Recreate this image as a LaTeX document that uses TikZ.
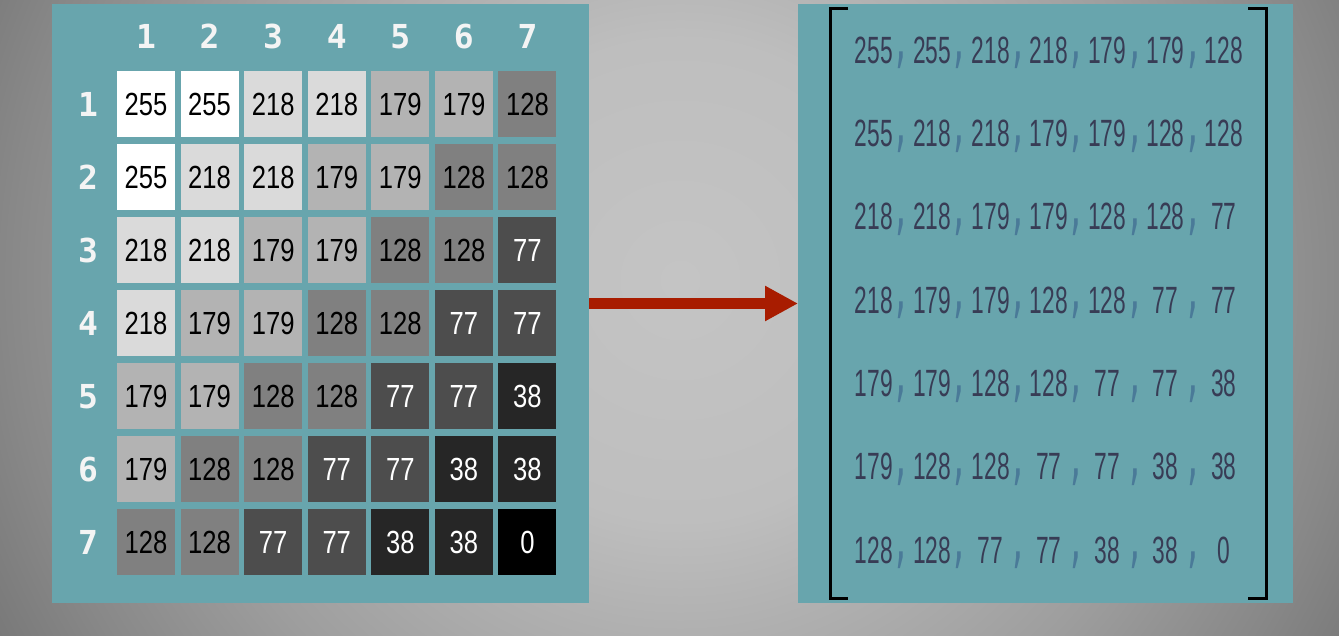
\documentclass[tikz,border=0pt]{standalone}
\usepackage{fontspec}
\setmainfont{Liberation Sans}
\newfontfamily\cellfont[FakeStretch=0.8]{Liberation Sans}
\newfontfamily\vecfont[FakeStretch=0.6]{Liberation Sans}
\newfontfamily\commafont{DejaVu Sans}
\newfontfamily\headfont{DejaVu Sans Mono}
\usetikzlibrary{arrows.meta}
\definecolor{tealpanel}{HTML}{68A5AD}
\definecolor{bga}{HTML}{C4C4C4}
\definecolor{bgb}{HTML}{BEBEBE}
\definecolor{bgc}{HTML}{B0B0B0}
\definecolor{bgd}{HTML}{9E9E9E}
\definecolor{bge}{HTML}{888888}
\definecolor{bgf}{HTML}{747474}
\definecolor{arrowred}{HTML}{A81C00}
\definecolor{vectext}{HTML}{383C55}
\definecolor{commablue}{HTML}{4A7A98}
\definecolor{headwhite}{HTML}{F4F4F4}
\pgfdeclareradialshading{bgshade}{\pgfpoint{0bp}{0bp}}{color(0bp)=(bga); color(7.5bp)=(bgb); color(11bp)=(bgc); color(16bp)=(bgd); color(21bp)=(bge); color(25bp)=(bgf); color(50bp)=(bgf)}
\begin{document}
\begin{tikzpicture}[x=1pt,y=-1pt,
  boxpanel/.style={fill=tealpanel, draw=none, inner sep=0pt},
  pixcell/.style={minimum width=58pt, minimum height=66pt, inner sep=0pt, font=\cellfont\fontsize{32}{32}\selectfont},
  headnum/.style={inner sep=0pt, text=headwhite, font=\headfont\bfseries\fontsize{33}{33}\selectfont},
  vecnum/.style={inner sep=0pt, text=vectext, font=\vecfont\fontsize{38}{38}\selectfont},
  vecsep/.style={inner sep=0pt, anchor=north, text=commablue, font=\commafont\fontsize{70}{70}\selectfont},
  bracketline/.style={line width=3pt, draw=black, line cap=butt, line join=miter},
  bigarrow/.style={draw=arrowred, line width=11pt, -{Triangle[length=33pt,width=33pt]}}
]
\useasboundingbox (0,0) rectangle (1339,635);
\begin{scope}
  \clip (0,0) rectangle (1339,635);
  \shade[shading=bgshade] (680,280) circle[radius=800];
\end{scope}

\node[boxpanel, minimum width=537pt, minimum height=599pt] (L) at (320.5,303.5) {};
\node[boxpanel, minimum width=495pt, minimum height=599pt] (R) at (1045.75,303.5) {};

\draw[bigarrow] (L.east) -- (R.west);

\draw[bracketline] (848,8) -- (830,8) -- (830,598) -- (848,598);
\draw[bracketline] (1248,8) -- (1266,8) -- (1266,598) -- (1248,598);

\foreach \i in {1,...,7}{
  \node[headnum] (h-\i) at ({146+63.58*(\i-1)},36.5) {\i};
  \node[headnum] (r-\i) at (88,{104+73.08*(\i-1)}) {\i};
  \foreach \j in {1,...,7}{
    \pgfmathtruncatemacro\k{(\i+\j-2)/2}
    \pgfmathtruncatemacro\v{{255,218,179,128,77,38,0}[\k]}
    \ifnum\v<100 \def\tc{white}\else\def\tc{black}\fi
    \node[pixcell, fill={rgb,255:red,\v;green,\v;blue,\v}, text=\tc] (c-\i-\j) at ({146+63.58*(\j-1)},{104+73.08*(\i-1)}) {\v};
    \node[vecnum] (t-\i-\j) at ({874+58.33*(\j-1)},{50+83.33*(\i-1)}) {\v};
  }
  \foreach \j in {1,...,6}{
    \node[vecsep] (s-\i-\j) at ({901+58.4*(\j-1)},{52+83.33*(\i-1)}) {\scalebox{0.5}[1]{,}};
  }
}
\end{tikzpicture}
\end{document}
